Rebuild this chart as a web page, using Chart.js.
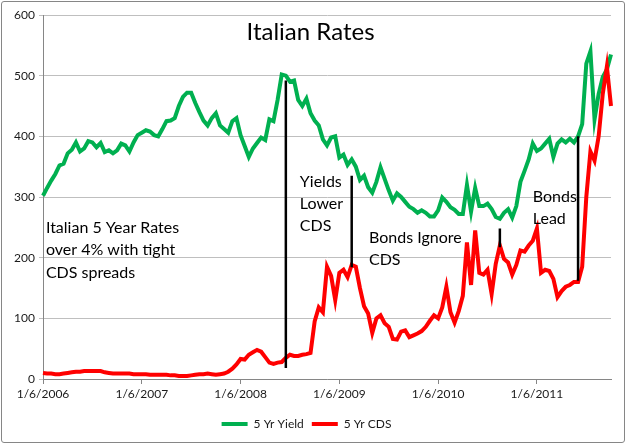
<!DOCTYPE html>
<html lang="en">
<head>
<meta charset="UTF-8">
<title>Italian Rates</title>
<script src="https://cdn.jsdelivr.net/npm/chart.js"></script>
<style>
    body { margin: 0; background: #fff; }
    .frame {
        position: absolute; left: 1px; top: 1px;
        width: 622px; height: 440px;
        border: 1px solid #868686; border-radius: 3px;
        background: #fff;
    }
</style>
</head>
<body>
<div class="frame"><canvas id="rates"></canvas></div>
<script>
// half-monthly dates, 1/6/2006 .. 10/6/2011
const dates = [
    '1/6/2006','1/21/2006','2/6/2006','2/21/2006','3/6/2006','3/21/2006','4/6/2006','4/21/2006','5/6/2006','5/21/2006','6/6/2006','6/21/2006',
    '7/6/2006','7/21/2006','8/6/2006','8/21/2006','9/6/2006','9/21/2006','10/6/2006','10/21/2006','11/6/2006','11/21/2006','12/6/2006','12/21/2006',
    '1/6/2007','1/21/2007','2/6/2007','2/21/2007','3/6/2007','3/21/2007','4/6/2007','4/21/2007','5/6/2007','5/21/2007','6/6/2007','6/21/2007',
    '7/6/2007','7/21/2007','8/6/2007','8/21/2007','9/6/2007','9/21/2007','10/6/2007','10/21/2007','11/6/2007','11/21/2007','12/6/2007','12/21/2007',
    '1/6/2008','1/21/2008','2/6/2008','2/21/2008','3/6/2008','3/21/2008','4/6/2008','4/21/2008','5/6/2008','5/21/2008','6/6/2008','6/21/2008',
    '7/6/2008','7/21/2008','8/6/2008','8/21/2008','9/6/2008','9/21/2008','10/6/2008','10/21/2008','11/6/2008','11/21/2008','12/6/2008','12/21/2008',
    '1/6/2009','1/21/2009','2/6/2009','2/21/2009','3/6/2009','3/21/2009','4/6/2009','4/21/2009','5/6/2009','5/21/2009','6/6/2009','6/21/2009',
    '7/6/2009','7/21/2009','8/6/2009','8/21/2009','9/6/2009','9/21/2009','10/6/2009','10/21/2009','11/6/2009','11/21/2009','12/6/2009','12/21/2009',
    '1/6/2010','1/21/2010','2/6/2010','2/21/2010','3/6/2010','3/21/2010','4/6/2010','4/21/2010','5/6/2010','5/21/2010','6/6/2010','6/21/2010',
    '7/6/2010','7/21/2010','8/6/2010','8/21/2010','9/6/2010','9/21/2010','10/6/2010','10/21/2010','11/6/2010','11/21/2010','12/6/2010','12/21/2010',
    '1/6/2011','1/21/2011','2/6/2011','2/21/2011','3/6/2011','3/21/2011','4/6/2011','4/21/2011','5/6/2011','5/21/2011','6/6/2011','6/21/2011',
    '7/6/2011','7/21/2011','8/6/2011','8/21/2011','9/6/2011','9/21/2011','10/6/2011'
];

const yield5y = [
    302,315,327,338,352,355,372,378,390,375,
    380,392,390,382,389,374,377,372,377,388,
    385,375,390,402,406,410,408,402,400,412,
    425,426,430,450,465,472,472,455,440,426,
    418,430,438,418,412,406,425,430,402,384,
    366,380,389,398,394,428,425,460,502,500,
    490,492,460,450,462,438,426,418,395,385,
    398,400,365,370,353,362,350,328,335,316,
    307,325,349,330,311,294,306,300,292,284,
    280,274,278,274,268,268,278,299,292,283,
    279,272,272,320,276,315,285,285,289,280,
    267,264,274,280,266,285,325,343,362,388,
    376,380,388,396,366,388,395,390,396,390,
    400,420,520,540,428,470,498,510,535
];

const cds5y = [
    10,9,9,8,8,9,10,11,12,12,
    13,13,13,13,13,11,10,9,9,9,
    9,9,8,8,8,8,7,7,7,7,
    7,6,6,5,5,5,6,7,8,8,
    9,8,7,8,9,12,17,24,33,32,
    40,44,48,45,36,27,25,27,28,35,
    40,38,38,40,41,43,95,118,110,185,
    170,130,175,180,168,188,185,150,120,108,
    76,100,105,92,86,66,65,78,80,69,
    72,75,79,86,96,105,100,118,152,110,
    93,112,137,225,155,245,175,172,180,140,
    190,220,198,192,172,188,212,210,220,228,
    248,175,180,178,165,135,145,152,155,160,
    160,185,300,375,360,400,470,515,450
];

const yTicks = [0, 100, 200, 300, 400, 500, 600];

// black marker lines: date, top value, bottom value
const markerDates = ['6/21/2008', '2/21/2009', '8/21/2010', '6/6/2011'];
const markerTops = [492, 335, 248, 400];
const markerBottoms = [18, 184, 217, 162];

const isYearTick = i => dates[i] && dates[i].startsWith('1/6/');

const markerSets = markerDates.map((d, i) => ({
    label: 'marker',
    data: [{ x: d, y: markerTops[i] }, { x: d, y: markerBottoms[i] }],
    borderColor: '#000',
    borderWidth: 2.5,
    pointRadius: 0,
    order: 0
}));

const notesPlugin = {
    id: 'notes',
    afterDatasetsDraw(chart, args, opts) {
        const { ctx, scales: { x, y } } = chart;
        ctx.save();
        ctx.fillStyle = '#000';
        ctx.textBaseline = 'alphabetic';
        opts.items.forEach(n => {
            ctx.font = n.size + 'px Lato';
            ctx.textAlign = n.align || 'left';
            const px = x.getPixelForValue(n.at[0]);
            const py = y.getPixelForValue(n.at[1]);
            n.lines.forEach((t, k) => ctx.fillText(t, px, py + k * n.lead));
        });
        ctx.restore();
    }
};

new Chart(document.getElementById('rates'), {
    type: 'line',
    data: {
        labels: dates,
        datasets: [
            {
                label: '5 Yr Yield',
                data: yield5y,
                borderColor: '#00B050',
                backgroundColor: '#00B050',
                borderWidth: 4,
                pointRadius: 0,
                pointStyle: 'line',
                order: 2
            },
            {
                label: '5 Yr CDS',
                data: cds5y,
                borderColor: '#FF0000',
                backgroundColor: '#FF0000',
                borderWidth: 4,
                pointRadius: 0,
                pointStyle: 'line',
                order: 1
            },
            ...markerSets
        ]
    },
    options: {
        responsive: true,
        maintainAspectRatio: false,
        animation: false,
        layout: { padding: { top: 13, right: 13, left: 0, bottom: 2 } },
        plugins: {
            tooltip: { enabled: false },
            legend: {
                position: 'bottom',
                labels: {
                    usePointStyle: true,
                    pointStyleWidth: 26,
                    padding: 8,
                    color: '#1a1a1a',
                    font: { family: 'Lato', size: 12 },
                    filter: item => item.datasetIndex < 2,
                    sort: (a, b) => a.datasetIndex - b.datasetIndex
                }
            },
            notes: {
                items: [
                    { lines: ['Italian Rates'], at: [65, 559], size: 24, align: 'center', lead: 0 },
                    { lines: ['Italian 5 Year Rates', 'over 4% with tight', 'CDS spreads'], at: [0.7, 241], size: 16, lead: 22.5 },
                    { lines: ['Yields', 'Lower', 'CDS'], at: [62.4, 316], size: 16, lead: 22 },
                    { lines: ['Bonds Ignore', 'CDS'], at: [79.2, 225], size: 16, lead: 22 },
                    { lines: ['Bonds', 'Lead'], at: [119, 291], size: 16, lead: 22 }
                ]
            }
        },
        scales: {
            x: {
                grid: {
                    drawOnChartArea: false,
                    tickLength: 5,
                    color: c => isYearTick(c.index) ? '#868686' : 'rgba(0,0,0,0)'
                },
                border: { color: '#868686' },
                ticks: {
                    autoSkip: false,
                    maxRotation: 0,
                    padding: 3,
                    color: '#1a1a1a',
                    font: { family: 'Lato', size: 12 },
                    callback: (v, i) => isYearTick(i) ? dates[i] : ''
                },
                afterFit: s => { s.height = 31; }
            },
            y: {
                min: 0,
                max: 600,
                afterBuildTicks: s => { s.ticks = yTicks.map(v => ({ value: v })); },
                grid: { color: '#bfbfbf', tickLength: 4 },
                border: { color: '#868686' },
                ticks: {
                    padding: 4,
                    color: '#1a1a1a',
                    font: { family: 'Lato', size: 12 }
                },
                afterFit: s => { s.width = 41; }
            }
        }
    },
    plugins: [notesPlugin]
});
</script>
</body>
</html>
